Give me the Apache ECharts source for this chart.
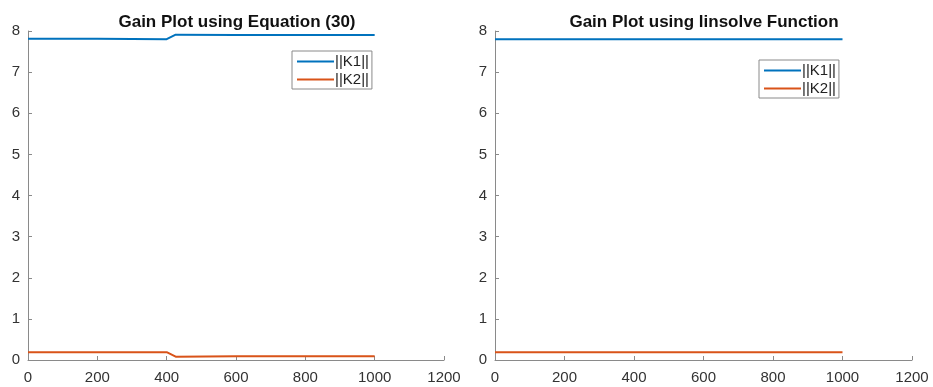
<!DOCTYPE html>
<html><head><meta charset="utf-8">
<script src="https://cdn.jsdelivr.net/npm/echarts@6/dist/echarts.min.js"></script>
<style>html,body{margin:0;padding:0;background:#fff}#c{width:933px;height:387px}</style>
</head><body><div id="c"></div>
<script>
const titles = ['Gain Plot using Equation (30)', 'Gain Plot using linsolve Function'];
const seriesNames = ['||K1||', '||K2||'];
const xTicks = [0, 200, 400, 600, 800, 1000, 1200];
const yTicks = [0, 1, 2, 3, 4, 5, 6, 7, 8];
// Left plot (Equation 30)
const eqX = [0, 200, 400, 405, 426, 600, 800, 1000];
const eqK1 = [7.81, 7.81, 7.80, 7.80, 7.91, 7.90, 7.90, 7.90];
const eqK2 = [0.19, 0.19, 0.19, 0.18, 0.08, 0.09, 0.09, 0.09];
// Right plot (linsolve)
const linX = [0, 200, 400, 600, 800, 1000];
const linK1 = [7.80, 7.80, 7.80, 7.80, 7.80, 7.80];
const linK2 = [0.19, 0.19, 0.19, 0.19, 0.19, 0.19];

const colors = ['#0072BD', '#D95319'];
const font = 'Liberation Sans, Arial, Helvetica, sans-serif';
const pairs = (xs, ys) => xs.map((x, i) => [x, ys[i]]);

const chart = echarts.init(document.getElementById('c'));
const grids = [
  {left: 28, right: 489, top: 31, bottom: 27},
  {left: 495, right: 21, top: 31, bottom: 27}
];
function xAxis(i) {
  return {type: 'value', gridIndex: i, min: xTicks[0], max: xTicks[xTicks.length - 1], interval: xTicks[1] - xTicks[0],
    axisLine: {show: true, lineStyle: {color: '#8a8a8a', width: 1}},
    axisTick: {show: true, inside: true, length: 4, lineStyle: {color: '#8a8a8a'}},
    axisLabel: {color: '#333', fontSize: 15, fontFamily: font, margin: 10, formatter: v => String(v)},
    splitLine: {show: false}};
}
function yAxis(i) {
  return {type: 'value', gridIndex: i, min: yTicks[0], max: yTicks[yTicks.length - 1], interval: yTicks[1] - yTicks[0],
    axisLine: {show: true, lineStyle: {color: '#8a8a8a', width: 1}},
    axisTick: {show: true, inside: true, length: 4, lineStyle: {color: '#8a8a8a'}},
    axisLabel: {color: '#333', fontSize: 15, fontFamily: font, margin: 8, formatter: v => String(v)},
    splitLine: {show: false}};
}
function line(name, xi, data, color) {
  return {name: name, type: 'line', xAxisIndex: xi, yAxisIndex: xi, data: data,
    showSymbol: false, symbol: 'none', lineStyle: {color: color, width: 2}, itemStyle: {color: color},
    animation: false};
}
function legend(left, top) {
  return {left: left, top: top, orient: 'vertical', data: seriesNames,
    icon: 'path://M0,0 L38,0 L38,2 L0,2 Z', itemWidth: 37, itemHeight: 2, itemGap: 3,
    borderColor: '#8a8a8a', borderWidth: 1, padding: [3, 3, 2, 5], backgroundColor: '#fff',
    textStyle: {fontSize: 15, color: '#222', fontFamily: font, padding: [0, 0, 0, -4]},
    selectedMode: false};
}
chart.setOption({
  animation: false,
  title: [
    {text: titles[0], left: 232, top: 9, textAlign: 'center',
      textStyle: {fontSize: 17, fontWeight: 'bold', color: '#111', fontFamily: font}},
    {text: titles[1], left: 699, top: 9, textAlign: 'center',
      textStyle: {fontSize: 17, fontWeight: 'bold', color: '#111', fontFamily: font}}
  ],
  grid: grids,
  xAxis: [xAxis(0), xAxis(1)],
  yAxis: [yAxis(0), yAxis(1)],
  legend: [legend(292, 51), legend(759, 60)],
  series: [
    line(seriesNames[0], 0, pairs(eqX, eqK1), colors[0]),
    line(seriesNames[1], 0, pairs(eqX, eqK2), colors[1]),
    line(seriesNames[0], 1, pairs(linX, linK1), colors[0]),
    line(seriesNames[1], 1, pairs(linX, linK2), colors[1])
  ]
});
</script></body></html>
